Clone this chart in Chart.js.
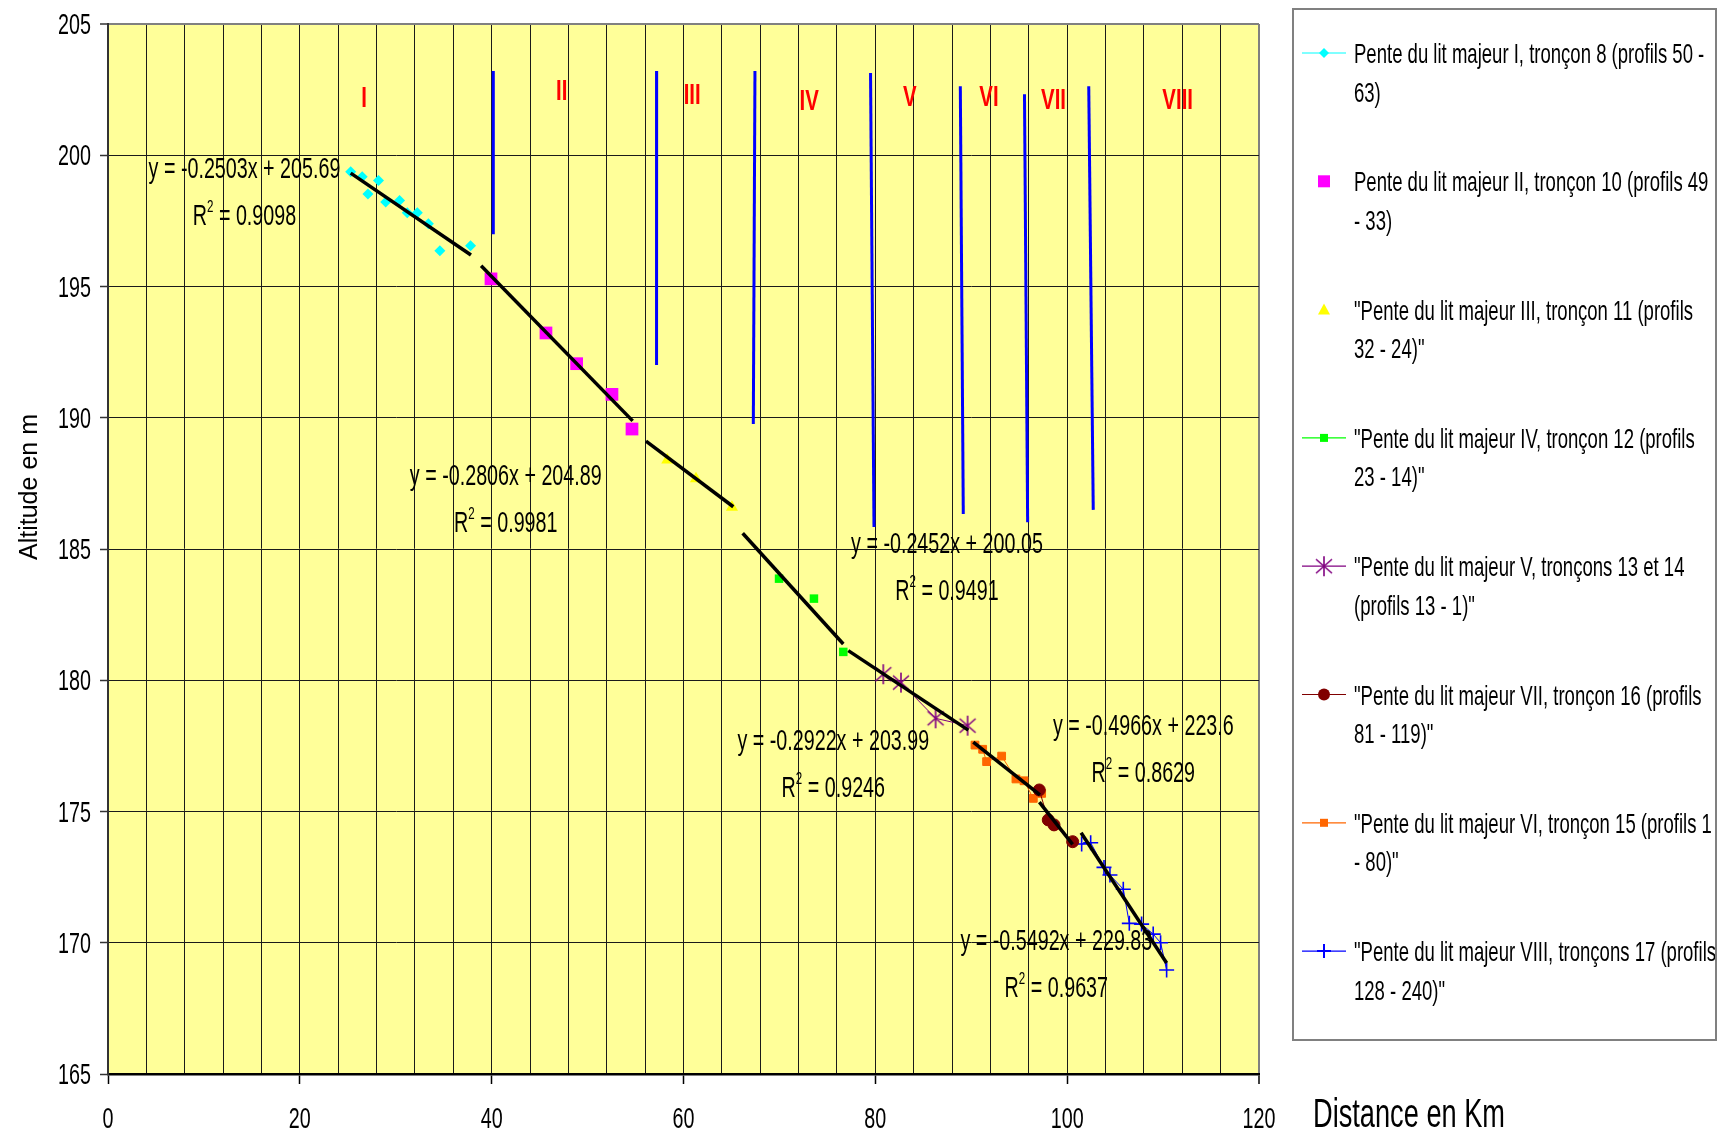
<!DOCTYPE html>
<html>
<head>
<meta charset="utf-8">
<title>Pente du lit majeur</title>
<script src="https://cdn.jsdelivr.net/npm/chart.js@4.4.0/dist/chart.umd.min.js"></script>
<style>
  html, body { margin: 0; padding: 0; background: #fff; }
  #chartCanvas { display: block; }
</style>
</head>
<body>
<canvas id="chartCanvas" width="1722" height="1135"></canvas>
<script>
// valeurs (distance en km, altitude en m)
const ticksX = [0, 20, 40, 60, 80, 100, 120];
const ticksY = [165, 170, 175, 180, 185, 190, 195, 200, 205];

const xI = [25.3, 26.5, 28.2, 27.1, 28.95, 30.4, 31.2, 32.25, 33.4, 34.6, 37.8];
const yI = [199.37, 199.18, 199.04, 198.52, 198.22, 198.28, 197.81, 197.81, 197.39, 196.36, 196.55];

const xII = [39.93, 45.66, 48.86, 52.54, 54.63];
const yII = [195.29, 193.23, 192.06, 190.89, 189.57];

const xIII = [58.31, 61.3, 65.05];
const yIII = [188.39, 187.68, 186.59];

const xIV = [69.96, 73.6, 76.66];
const yIV = [183.87, 183.11, 181.08];

const xV = [80.83, 82.67, 86.28, 89.62];
const yV = [180.23, 179.91, 178.55, 178.27];

const xVI = [90.39, 91.19, 91.6, 93.17, 94.66, 95.5, 96.47, 97.34];
const yVI = [177.53, 177.37, 176.9, 177.11, 176.24, 176.17, 175.5, 175.69];

const xVII = [97.09, 98.03, 98.63, 100.57];
const yVII = [175.82, 174.68, 174.49, 173.85];

const xVIII = [101.51, 102.45, 103.84, 104.46, 105.85, 106.48, 107.76, 108.97, 109.74, 110.37];
const yVIII = [173.76, 173.81, 172.87, 172.58, 172.04, 170.74, 170.71, 170.33, 170.0, 168.96];

// courbes de tendance (debut, fin)
const trendX = [[25.3, 37.84], [38.9, 54.7], [56.09, 65.19], [66.17, 76.66], [77.18, 89.69], [90.21, 97.16], [97.1, 100.57], [101.45, 110.37]];
const trendY = [[199.32, 196.2], [195.79, 189.88], [189.11, 186.61], [185.6, 181.38], [181.13, 178.1], [177.64, 175.63], [175.36, 173.75], [174.19, 169.23]];

// limites des troncons (haut, bas)
const limitesX = [[40.17, 40.17], [57.2, 57.19], [67.45, 67.28], [79.5, 79.86], [88.86, 89.17], [95.55, 95.88], [102.25, 102.72]];
const limitesY = [[203.21, 196.99], [203.21, 192.01], [203.21, 189.76], [203.13, 185.84], [202.63, 186.33], [202.32, 186.02], [202.63, 186.49]];

const troncons = ['I', 'II', 'III', 'IV', 'V', 'VI', 'VII', 'VIII'];
const equations = ['y = -0.2503x + 205.69', 'y = -0.2806x + 204.89', 'y = -0.2452x + 200.05', 'y = -0.2922x + 203.99', 'y = -0.4966x + 223.6', 'y = -0.5492x + 229.83'];
const r2 = ['0.9098', '0.9981', '0.9491', '0.9246', '0.8629', '0.9637'];

const legendeTextes = [
  ['Pente du lit majeur I, tronçon 8 (profils 50 -', '63)'],
  ['Pente du lit majeur II, tronçon 10 (profils 49', '- 33)'],
  ['"Pente du lit majeur III, tronçon 11 (profils', '32 - 24)"'],
  ['"Pente du lit majeur IV, tronçon 12 (profils', '23 - 14)"'],
  ['"Pente du lit majeur V, tronçons 13 et 14', '(profils 13 - 1)"'],
  ['"Pente du lit majeur VII, tronçon 16 (profils', '81 - 119)"'],
  ['"Pente du lit majeur VI, tronçon 15 (profils 1', '- 80)"'],
  ['"Pente du lit majeur VIII, tronçons 17 (profils', '128 - 240)"']
];

// position des etiquettes (en unites du graphique)
const posTroncons = [[26.7, 202.26], [47.3, 202.52], [60.9, 202.37], [73.1, 202.15], [83.6, 202.3], [91.85, 202.3], [98.58, 202.2], [111.52, 202.2]];
const posEquations = [[14.23, 199.13], [41.47, 187.44], [87.47, 184.84], [75.62, 177.34], [107.94, 177.91], [98.87, 169.72]];

const FONT = '"Liberation Sans", Arial, sans-serif';
const SX = 0.68; // texte etroit comme sur l'original

function pts(xs, ys) {
  return xs.map((x, i) => ({ x: x, y: ys[i] }));
}

function asterisque(couleur) {
  const c = document.createElement('canvas');
  c.width = 20; c.height = 22;
  const g = c.getContext('2d');
  g.strokeStyle = couleur;
  g.lineWidth = 1.6;
  g.beginPath();
  g.moveTo(10, 1); g.lineTo(10, 21);
  g.moveTo(2, 4); g.lineTo(18, 18);
  g.moveTo(18, 4); g.lineTo(2, 18);
  g.stroke();
  return c;
}
const etoile = asterisque('#800080');

function texte(ctx, t, x, y, size, align, color, bold, sx) {
  ctx.save();
  ctx.font = (bold ? 'bold ' : '') + size + 'px ' + FONT;
  ctx.fillStyle = color || '#000';
  ctx.textAlign = align || 'left';
  ctx.textBaseline = 'alphabetic';
  ctx.translate(x, y);
  ctx.scale(sx || SX, 1);
  ctx.fillText(t, 0, 0);
  ctx.restore();
}

function largeur(ctx, t, size) {
  ctx.save();
  ctx.font = size + 'px ' + FONT;
  const w = ctx.measureText(t).width * SX;
  ctx.restore();
  return w;
}

function texteR2(ctx, val, cx, y) {
  const a = 'R', b = '2', c = ' = ' + val;
  const wa = largeur(ctx, a, 29), wb = largeur(ctx, b, 17), wc = largeur(ctx, c, 29);
  let x = cx - (wa + wb + wc) / 2;
  texte(ctx, a, x, y, 29); x += wa;
  texte(ctx, b, x, y - 13, 17); x += wb;
  texte(ctx, c, x, y, 29);
}

function symbole(ctx, type, couleur, x, y) {
  ctx.save();
  ctx.fillStyle = couleur;
  ctx.strokeStyle = couleur;
  ctx.beginPath();
  if (type === 'losange') {
    ctx.moveTo(x - 5, y); ctx.lineTo(x, y - 5); ctx.lineTo(x + 5, y); ctx.lineTo(x, y + 5);
    ctx.closePath(); ctx.fill();
  } else if (type === 'carre') {
    ctx.fillRect(x - 6, y - 6, 12, 12);
  } else if (type === 'petitcarre') {
    ctx.fillRect(x - 4, y - 4, 8, 8);
  } else if (type === 'triangle') {
    ctx.moveTo(x, y - 6); ctx.lineTo(x + 6, y + 5); ctx.lineTo(x - 6, y + 5);
    ctx.closePath(); ctx.fill();
  } else if (type === 'etoile') {
    ctx.drawImage(etoile, x - 10, y - 11);
  } else if (type === 'rond') {
    ctx.arc(x, y, 6, 0, Math.PI * 2); ctx.fill();
  } else if (type === 'plus') {
    ctx.lineWidth = 2;
    ctx.moveTo(x - 7, y); ctx.lineTo(x + 7, y);
    ctx.moveTo(x, y - 7); ctx.lineTo(x, y + 7);
    ctx.stroke();
  }
  ctx.restore();
}

const legende = [
  { couleur: '#00FFFF', marque: 'losange', trait: true },
  { couleur: '#FF00FF', marque: 'carre', trait: false },
  { couleur: '#FFFF00', marque: 'triangle', trait: false },
  { couleur: '#00FF00', marque: 'petitcarre', trait: true },
  { couleur: '#800080', marque: 'etoile', trait: true },
  { couleur: '#800000', marque: 'rond', trait: true },
  { couleur: '#FF6600', marque: 'petitcarre', trait: true },
  { couleur: '#0000FF', marque: 'plus', trait: true }
];

const fondPlugin = {
  id: 'fond',
  beforeDraw(chart) {
    const { ctx, chartArea: a } = chart;
    ctx.save();
    ctx.fillStyle = '#FFFF99';
    ctx.fillRect(a.left, a.top, a.right - a.left, a.bottom - a.top);
    ctx.restore();
  }
};

const textesPlugin = {
  id: 'textes',
  afterDraw(chart) {
    const ctx = chart.ctx;
    const sx = chart.scales.x, sy = chart.scales.y;

    // graduations
    ticksY.forEach(v => texte(ctx, String(v), 91, sy.getPixelForValue(v) + 10, 29, 'right'));
    ticksX.forEach(v => texte(ctx, String(v), sx.getPixelForValue(v), 1128, 29, 'center'));

    // titres des axes
    texte(ctx, 'Distance en Km', 1313, 1127, 40, 'left');
    ctx.save();
    ctx.font = '25px ' + FONT;
    ctx.fillStyle = '#000';
    ctx.textAlign = 'center';
    ctx.translate(37, 487);
    ctx.rotate(-Math.PI / 2);
    ctx.fillText('Altitude en m', 0, 0);
    ctx.restore();

    // numeros des troncons
    troncons.forEach((t, i) => {
      texte(ctx, t, sx.getPixelForValue(posTroncons[i][0]), sy.getPixelForValue(posTroncons[i][1]) + 11, 30, 'center', '#FF0000', true);
    });

    // equations des courbes de tendance
    equations.forEach((eq, i) => {
      const cx = sx.getPixelForValue(posEquations[i][0]);
      const by = sy.getPixelForValue(posEquations[i][1]);
      texte(ctx, eq, cx, by, 29, 'center');
      texteR2(ctx, r2[i], cx, by + 47);
    });

    // legende
    ctx.save();
    ctx.fillStyle = '#fff';
    ctx.fillRect(1293, 9, 423, 1031);
    ctx.strokeStyle = '#808080';
    ctx.lineWidth = 2;
    ctx.strokeRect(1293, 9, 423, 1031);
    ctx.restore();
    legende.forEach((e, i) => {
      const cy = 53 + i * 128.3;
      if (e.trait) {
        ctx.save();
        ctx.strokeStyle = e.couleur;
        ctx.lineWidth = 1.2;
        ctx.beginPath();
        ctx.moveTo(1302, cy); ctx.lineTo(1346, cy);
        ctx.stroke();
        ctx.restore();
      }
      symbole(ctx, e.marque, e.couleur, 1324, cy);
      ctx.save();
      ctx.beginPath();
      ctx.rect(1295, 0, 420, 1135);
      ctx.clip();
      legendeTextes[i].forEach((l, k) => texte(ctx, l, 1354, cy + 10 + k * 38.5, 28, 'left', '#000', false, 0.662));
      ctx.restore();
    });
  }
};

const datasets = [
  { label: 'I', data: pts(xI, yI), pointStyle: 'rectRot', pointRadius: 5.5, backgroundColor: '#00FFFF', borderColor: '#00FFFF', borderWidth: 0, order: 2 },
  { label: 'II', data: pts(xII, yII), pointStyle: 'rect', pointRadius: 9, backgroundColor: '#FF00FF', borderColor: '#FF00FF', borderWidth: 0, order: 2 },
  { label: 'III', data: pts(xIII, yIII), pointStyle: 'triangle', pointRadius: 7, backgroundColor: '#FFFF00', borderColor: '#FFFF00', borderWidth: 0, order: 2 },
  { label: 'IV', data: pts(xIV, yIV), pointStyle: 'rect', pointRadius: 6, backgroundColor: '#00FF00', borderColor: '#00FF00', borderWidth: 0, order: 2 },
  { label: 'V', data: pts(xV, yV), pointStyle: etoile, pointRadius: 9, showLine: true, borderWidth: 1, backgroundColor: '#800080', borderColor: '#800080', order: 2 },
  { label: 'VII', data: pts(xVII, yVII), pointStyle: 'circle', pointRadius: 6, showLine: true, borderWidth: 1, backgroundColor: '#800000', borderColor: '#800000', order: 2 },
  { label: 'VI', data: pts(xVI, yVI), pointStyle: 'rect', pointRadius: 5.5, showLine: true, borderWidth: 1, backgroundColor: '#FF6600', borderColor: '#FF6600', order: 2 },
  { label: 'VIII', data: pts(xVIII, yVIII), pointStyle: 'cross', pointRadius: 7.5, pointBorderWidth: 1.6, showLine: true, borderWidth: 1, backgroundColor: '#0000FF', borderColor: '#0000FF', order: 2 }
];

trendX.forEach((xs, i) => {
  datasets.push({ label: 'tendance ' + troncons[i], data: pts(xs, trendY[i]), showLine: true, pointRadius: 0, borderColor: '#000', borderWidth: 3.5, order: 1 });
});
limitesX.forEach((xs, i) => {
  datasets.push({ label: 'limite ' + (i + 1), data: pts(xs, limitesY[i]), showLine: true, pointRadius: 0, borderColor: '#0000FF', borderWidth: 3, order: 0 });
});

const gridX = [];
for (let v = 0; v <= 120; v += 4) gridX.push(v);

new Chart(document.getElementById('chartCanvas'), {
  type: 'scatter',
  data: { datasets: datasets },
  options: {
    responsive: false,
    animation: false,
    events: [],
    layout: { autoPadding: false, padding: { left: 100, right: 463, top: 24, bottom: 51 } },
    plugins: { legend: { display: false }, tooltip: { enabled: false } },
    scales: {
      x: {
        type: 'linear',
        min: 0,
        max: 120,
        afterBuildTicks: s => { s.ticks = gridX.map(v => ({ value: v })); },
        ticks: { display: false },
        grid: {
          color: c => (c.tick && c.tick.value === 120) ? '#808080' : '#1a1a1a',
          lineWidth: c => (c.tick && c.tick.value === 120) ? 2 : 1,
          tickLength: 10,
          tickWidth: 1.5,
          tickColor: c => (c.tick && c.tick.value % 20 === 0) ? '#000' : 'rgba(0,0,0,0)'
        },
        border: { color: '#000', width: 2.5 }
      },
      y: {
        type: 'linear',
        min: 165,
        max: 205,
        afterBuildTicks: s => { s.ticks = ticksY.map(v => ({ value: v })); },
        ticks: { display: false },
        grid: {
          color: c => (c.tick && c.tick.value === 205) ? '#808080' : '#1a1a1a',
          lineWidth: c => (c.tick && c.tick.value === 205) ? 2 : 1,
          tickLength: 8,
          tickWidth: 1.5,
          tickColor: '#333'
        },
        border: { color: '#333', width: 2 }
      }
    }
  },
  plugins: [fondPlugin, textesPlugin]
});
</script>
</body>
</html>
